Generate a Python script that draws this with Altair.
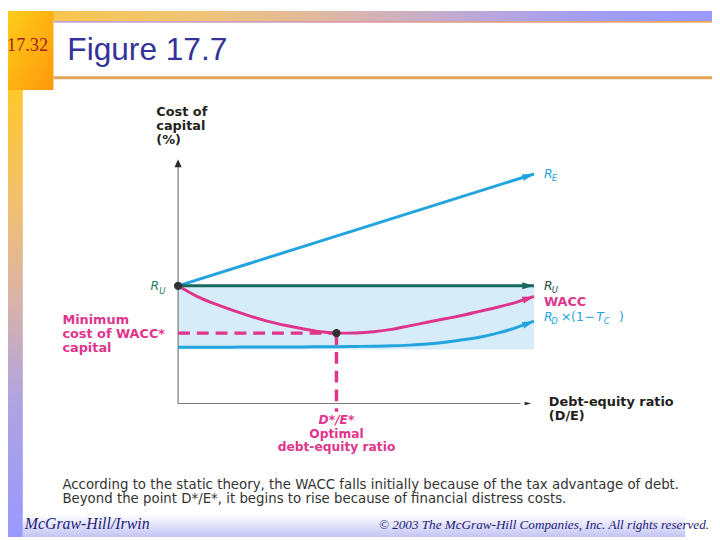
import math
import altair as alt
import pandas as pd

# ---------------- data ----------------
de_ratio = [0, 0.5, 1, 1.5, 2, 2.5, 3, 3.5, 4, 4.5, 5, 5.5, 6, 6.5, 7, 7.5, 8, 8.5, 9, 9.5, 10]
wacc = [10.0, 9.15, 8.5, 7.95, 7.45, 7.0, 6.65, 6.35, 6.1, 5.98, 6.0, 6.1, 6.3, 6.6, 6.9, 7.2, 7.5, 7.85, 8.2, 8.6, 9.1]
rd_after_tax = [4.78, 4.78, 4.79, 4.79, 4.8, 4.8, 4.81, 4.81, 4.82, 4.83, 4.85, 4.87, 4.9, 4.96, 5.05, 5.2, 5.42, 5.65, 6.0, 6.45, 7.0]
re_x = [0, 10]
re_vals = [10.0, 19.5]
ru_x = [0, 10]
ru_vals = [10.0, 10.0]
opt_de = 4.45          # D*/E*
min_wacc = 5.98        # WACC*
shade_low, shade_high = 4.6, 10.0
y_axis_top = 20.75
x_axis_end = 9.92

# ---------------- styles ----------------
MAG = "#E0358C"
BLUE = "#22A5DE"
TEAL = "#17695C"
SHADE = "#D6ECF9"
DOT = "#333333"
SANS = "DejaVu Sans"
SERIF = "Liberation Serif"

XS = alt.Scale(domain=[0, 10], range=[172, 532])
YS = alt.Scale(domain=[0, 21], range=[397, 147])
KX, KY = 36.0, 250.0 / 21.0  # px per unit, used for arrow directions

one = pd.DataFrame({"k": [0]})


def X(field="d"):
    return alt.X(f"{field}:Q", scale=XS, axis=None)


def Y(field="v"):
    return alt.Y(f"{field}:Q", scale=YS, axis=None)


def seg_angle(d0, v0, d1, v1):
    a = math.degrees(math.atan2(-(v1 - v0) * KY, (d1 - d0) * KX))
    return a % 360


def line(xs, vs, color, width=3, dash=None, interp="monotone"):
    df = pd.DataFrame({"d": xs, "v": vs})
    kw = dict(color=color, strokeWidth=width, interpolate=interp)
    if dash:
        kw["strokeDash"] = dash
    return alt.Chart(df).mark_line(**kw).encode(x=X(), y=Y())


def label(text, d, v, dx=0, dy=0, size=13, color="#231F20", weight="bold",
          style="normal", align="left", font=SANS):
    return alt.Chart(one).mark_text(
        text=text, dx=dx, dy=dy, fontSize=size, color=color, fontWeight=weight,
        fontStyle=style, align=align, baseline="middle", font=font
    ).encode(x=alt.XDatum(d, type="quantitative", scale=XS, axis=None),
             y=alt.YDatum(v, type="quantitative", scale=YS, axis=None))


def ptext(text, x, y, size, color, font, weight="normal", style="normal",
          align="left", baseline="alphabetic"):
    return alt.Chart(one).mark_text(
        text=text, fontSize=size, color=color, font=font, fontWeight=weight,
        fontStyle=style, align=align, baseline=baseline
    ).encode(x=alt.value(x), y=alt.value(y))


def grad_rect(x, x2, y, y2, stops, vertical=False, diag=False):
    if diag:
        g = dict(x1=0, y1=0, x2=1, y2=1)
    elif vertical:
        g = dict(x1=0, y1=0, x2=0, y2=1)
    else:
        g = dict(x1=0, y1=0, x2=1, y2=0)
    fill = alt.LinearGradient(
        gradient="linear",
        stops=[alt.GradientStop(offset=o, color=c) for o, c in stops], **g)
    return alt.Chart(one).mark_rect(fill=fill, strokeWidth=0).encode(
        x=alt.value(x), x2=alt.value(x2), y=alt.value(y), y2=alt.value(y2))


def solid_rect(x, x2, y, y2, color):
    return alt.Chart(one).mark_rect(fill=color, strokeWidth=0).encode(
        x=alt.value(x), x2=alt.value(x2), y=alt.value(y), y2=alt.value(y2))


# arrowheads drawn with their tip on the data point (path scaled by sqrt(size)/2)
ARROW = "M-1.7,-0.5L0,0L-1.7,0.5Z"
YARROW = "M-1,-0.45L0,0L-1,0.45Z"
XARROW = "M-1.9,-0.5L0,0L-1.9,0.5Z"

layers = []

# ---------------- slide chrome ----------------
layers.append(grad_rect(0, 712, 0, 10, [
    (0, "#F9C640"), (0.27, "#F1C478"), (0.42, "#E3BA98"), (0.5, "#D8B4B0"),
    (0.67, "#BBA8DA"), (0.83, "#A29EF5"), (1, "#9999FF")]))
layers.append(grad_rect(46, 712, 10, 12, [
    (0, "#C0A4D8"), (0.45, "#D99AA8"), (1, "#E8A858")]))
layers.append(grad_rect(0, 46, 0, 80, [(0, "#FFCC1A"), (1, "#FF980A")], diag=True))
layers.append(grad_rect(0, 15, 80, 532, [
    (0, "#FFC82C"), (0.25, "#F2C070"), (0.47, "#D9B3A8"), (0.69, "#B0A4E0"),
    (1, "#9999FF")], vertical=True))
layers.append(solid_rect(46, 712, 66, 69, "#E3A65A"))
layers.append(grad_rect(15, 685, 509, 532, [(0, "#FFFFFF"), (1, "#C4C4F6")], vertical=True))

layers.append(ptext("17.32", -1, 34, 18.5, "#A2231D", SERIF, baseline="middle"))
layers.append(ptext("Figure 17.7", 60, 50, 32, "#333399", "Liberation Sans"))
layers.append(ptext("McGraw-Hill/Irwin", 17, 524, 16, "#1B1B7A", SERIF, style="italic"))
layers.append(ptext("\u00a9 2003 The McGraw-Hill Companies, Inc. All rights reserved.",
                    709, 524, 13.3, "#1B1B7A", SERIF, style="italic", align="right"))

# caption
layers.append(ptext("According to the static theory, the WACC falls initially because of the tax advantage of debt.",
                    55, 479.5, 13.5, "#333333", SANS, baseline="middle"))
layers.append(ptext("Beyond the point  D*/E*, it begins to rise because of financial distress costs.",
                    55, 493.5, 13.5, "#333333", SANS, baseline="middle"))

# ---------------- plot ----------------
shade = pd.DataFrame({"d": [0], "d2": [10], "v": [shade_low], "v2": [shade_high]})
layers.append(alt.Chart(shade).mark_rect(fill=SHADE, strokeWidth=0).encode(
    x=X("d"), x2="d2:Q", y=Y("v"), y2="v2:Q"))

# axes
layers.append(line([0, 0], [0, y_axis_top - 0.5], "#7A7A7A", width=1.2, interp="linear"))
layers.append(line([0, x_axis_end - 0.3], [0, 0], "#7A7A7A", width=1.2, interp="linear"))
yarrow = pd.DataFrame({"d": [0], "v": [y_axis_top], "ang": [270]})
layers.append(alt.Chart(yarrow).mark_point(shape=YARROW, filled=True, size=256,
                                           opacity=1, color="#2A2A2A").encode(
    x=X(), y=Y(), angle=alt.Angle("ang:Q", scale=None)))
xarrow = pd.DataFrame({"d": [x_axis_end], "v": [0], "ang": [0]})
layers.append(alt.Chart(xarrow).mark_point(shape=XARROW, filled=True, size=49,
                                           opacity=1, color="#2A2A2A").encode(
    x=X(), y=Y(), angle=alt.Angle("ang:Q", scale=None)))

# curves
layers.append(line(re_x, re_vals, BLUE))
layers.append(line(ru_x, ru_vals, TEAL, interp="linear"))
layers.append(line(de_ratio, rd_after_tax, BLUE))
layers.append(line(de_ratio, wacc, MAG))

# dashed guides at the optimum
layers.append(line([0, opt_de], [min_wacc, min_wacc], MAG, width=3.5, dash=[12, 7], interp="linear"))
layers.append(line([opt_de, opt_de], [min_wacc, -0.7], MAG, width=3.5, dash=[12, 7], interp="linear"))

# arrowheads
ends = pd.DataFrame({
    "d": [re_x[-1], ru_x[-1], de_ratio[-1], de_ratio[-1]],
    "v": [re_vals[-1], ru_vals[-1], wacc[-1], rd_after_tax[-1]],
    "ang": [seg_angle(re_x[0], re_vals[0], re_x[-1], re_vals[-1]),
            0.0,
            seg_angle(de_ratio[-2], wacc[-2], de_ratio[-1], wacc[-1]),
            seg_angle(de_ratio[-2], rd_after_tax[-2], de_ratio[-1], rd_after_tax[-1])],
    "col": [BLUE, TEAL, MAG, BLUE],
})
layers.append(alt.Chart(ends).mark_point(shape=ARROW, filled=True, size=196, opacity=1).encode(
    x=X(), y=Y(), angle=alt.Angle("ang:Q", scale=None), color=alt.Color("col:N", scale=None)))

# dots
dots = pd.DataFrame({"d": [0, opt_de], "v": [ru_vals[0], min_wacc]})
layers.append(alt.Chart(dots).mark_point(shape="circle", filled=True, size=70, opacity=1,
                                         color=DOT).encode(x=X(), y=Y()))

# ---------------- plot text ----------------
layers += [
    label("Cost of", 0, 21, dx=-22, dy=-45),
    label("capital", 0, 21, dx=-22, dy=-30.5),
    label("(%)", 0, 21, dx=-22, dy=-16),
    label("Debt-equity ratio", 10, 0, dx=15, dy=-1),
    label("(D/E)", 10, 0, dx=15, dy=13),
    label("D*/E*", opt_de, 0, dy=17, align="center", color=MAG, style="italic", size=12.4),
    label("Optimal", opt_de, 0, dy=30.5, align="center", color=MAG, size=12.4),
    label("debt-equity ratio", opt_de, 0, dy=44, align="center", color=MAG, size=12.4),
    label("Minimum", 0, min_wacc, dx=-117, dy=-13, color=MAG),
    label("cost of WACC*", 0, min_wacc, dx=-117, dy=1, color=MAG),
    label("capital", 0, min_wacc, dx=-117, dy=15, color=MAG),
    # R_U on the axis
    label("R", 0, 10, dx=-28, dy=0, size=12.5, color="#2A7A6A", weight="normal", style="italic"),
    label("U", 0, 10, dx=-19, dy=5, size=8.5, color="#2A7A6A", weight="normal", style="italic"),
    # right-hand labels
    label("R", 10, 19.5, dx=10, dy=0, size=12.5, color=BLUE, weight="normal", style="italic"),
    label("E", 10, 19.5, dx=18, dy=4, size=8.5, color=BLUE, weight="normal", style="italic"),
    label("R", 10, 10, dx=10, dy=0, size=12.5, color="#1F4F48", weight="normal", style="italic"),
    label("U", 10, 10, dx=18, dy=4, size=8.5, color="#1F4F48", weight="normal", style="italic"),
    label("WACC", 10, 10, dx=10, dy=16.5, color=MAG),
    label("R", 10, 10, dx=10, dy=32, size=12.5, color=BLUE, weight="normal", style="italic"),
    label("D", 10, 10, dx=17.5, dy=36, size=8.5, color=BLUE, weight="normal", style="italic"),
    label("\u00d7", 10, 10, dx=27, dy=32, size=13, color=BLUE, weight="normal"),
    label("(1", 10, 10, dx=37.5, dy=32, size=12.5, color=BLUE, weight="normal"),
    label("\u2212", 10, 10, dx=51, dy=32, size=12.5, color=BLUE, weight="normal"),
    label("T", 10, 10, dx=63, dy=32, size=12.5, color=BLUE, weight="normal", style="italic"),
    label("C", 10, 10, dx=70.5, dy=36, size=8.5, color=BLUE, weight="normal", style="italic"),
    label(")", 10, 10, dx=86, dy=32, size=12.5, color=BLUE, weight="normal"),
]

chart = alt.layer(*layers).properties(
    width=712, height=532,
    autosize=alt.AutoSizeParams(type="none"),
    padding=0,
    background="white",
).configure_view(strokeWidth=0)

chart.save("out.html", embed_options={"renderer": "svg", "actions": False})
